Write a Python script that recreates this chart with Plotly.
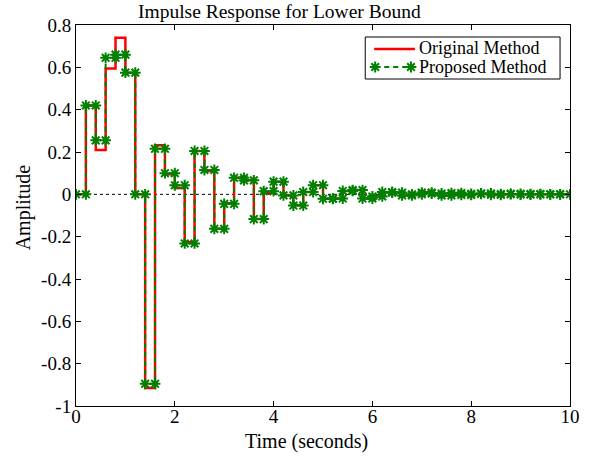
import numpy as np
import plotly.graph_objects as go

# ---- data ----
Ts = 0.2
t_start = [round(Ts * k, 2) for k in range(50)]

original_vals = [0.0, 0.42, 0.21, 0.595, 0.74, 0.575, 0.0, -0.915, 0.232, 0.095,
                 0.03, -0.225, 0.205, 0.11, -0.163, -0.042, 0.078, 0.066, -0.117, 0.005,
                 0.06, -0.005, -0.05, 0.011, 0.043, -0.021, -0.02, 0.016, 0.02, -0.02,
                 -0.01, 0.011, 0.008, -0.005, 0.0, 0.01, 0.004, -0.007, 0.006, -0.003,
                 0.002, 0.004, -0.003, 0.001, 0.002, -0.001, 0.001, 0.0, 0.0, 0.0]

proposed_vals = [0.0, 0.42, 0.255, 0.645, 0.66, 0.575, 0.0, -0.895, 0.215, 0.10,
                 0.043, -0.232, 0.205, 0.115, -0.163, -0.045, 0.078, 0.066, -0.117, 0.015,
                 0.06, -0.005, -0.053, 0.011, 0.043, -0.021, -0.02, 0.016, 0.02, -0.02,
                 -0.01, 0.011, 0.008, -0.005, 0.0, 0.008, 0.004, -0.005, 0.006, -0.003,
                 0.002, 0.004, -0.002, 0.001, 0.002, -0.001, 0.001, 0.0, 0.0, 0.0]

series_names = ["Original Method", "Proposed Method"]
x_ticks = [0, 2, 4, 6, 8, 10]
y_ticks = [-1, -0.8, -0.6, -0.4, -0.2, 0, 0.2, 0.4, 0.6, 0.8]
y_tick_text = ["-1", "-0.8", "-0.6", "-0.4", "-0.2", "0", "0.2", "0.4", "0.6", "0.8"]


def stairs(ts, vals, step):
    xs, ys = [], []
    for t, v in zip(ts, vals):
        xs += [t, t + step]
        ys += [v, v]
    return xs, ys


xo, yo = stairs(t_start, original_vals, Ts)
xp, yp = stairs(t_start, proposed_vals, Ts)

FONT = "Liberation Serif, Times New Roman, serif"
RED = "#ff0000"
GREEN = "#008000"
GREEN_LINE = dict(color=GREEN, width=2, dash="5px,4px")
GREEN_MARKER = dict(symbol="asterisk-open", size=9, color=GREEN,
                    line=dict(color=GREEN, width=2))

# plot area in pixels
L, R, T, B = 76, 573, 25, 406
W, H = R - L, B - T


def px(x):
    return (x - L) / W


def py(y):
    return (B - y) / H


fig = go.Figure()
fig.add_trace(go.Scatter(x=xo, y=yo, mode="lines", name=series_names[0],
                         line=dict(color=RED, width=2.5), showlegend=False))
fig.add_trace(go.Scatter(x=xp, y=yp, mode="lines+markers", name=series_names[1],
                         line=GREEN_LINE, marker=GREEN_MARKER, showlegend=False))

# legend markers on a pixel-based overlay axis
fig.add_trace(go.Scatter(x=[377, 413], y=[67, 67], mode="markers", xaxis="x2", yaxis="y2",
                         marker=GREEN_MARKER, showlegend=False, hoverinfo="skip"))

fig.add_shape(type="line", x0=0, x1=10, y0=0, y1=0, xref="x", yref="y",
              line=dict(color="black", width=1, dash="dot"), layer="below")

# manual legend box and samples
fig.add_shape(type="rect", xref="paper", yref="paper",
              x0=px(367), x1=px(563), y0=py(79), y1=py(37),
              line=dict(color="black", width=1), fillcolor="white", layer="below")
fig.add_shape(type="line", xref="paper", yref="paper",
              x0=px(376), x1=px(417), y0=py(49), y1=py(49),
              line=dict(color=RED, width=2.5))
fig.add_shape(type="line", xref="paper", yref="paper",
              x0=px(377), x1=px(413), y0=py(67), y1=py(67),
              line=GREEN_LINE)

axis_common = dict(showgrid=False, zeroline=False, showline=True, linecolor="black",
                   linewidth=1, mirror="ticks", ticks="inside", ticklen=5,
                   tickcolor="black", tickfont=dict(family=FONT, size=19, color="black"))

fig.update_xaxes(range=[0, 10], tickvals=x_ticks, ticklabelstandoff=-7, **axis_common)
fig.update_yaxes(range=[-1, 0.8], tickvals=y_ticks, ticktext=y_tick_text, **axis_common)

fig.update_layout(
    width=592, height=458,
    margin=dict(l=L, r=592 - R, t=T, b=458 - B),
    plot_bgcolor="white", paper_bgcolor="white",
    showlegend=False,
    xaxis2=dict(range=[L, R], overlaying="x", visible=False, fixedrange=True),
    yaxis2=dict(range=[B, T], overlaying="y", visible=False, fixedrange=True),
    annotations=[
        dict(text="Impulse Response for Lower Bound", xref="paper", yref="paper",
             x=px(281), y=py(12), xanchor="center", yanchor="middle",
             showarrow=False, font=dict(family=FONT, size=19.5, color="black")),
        dict(text="Time (seconds)", xref="paper", yref="paper",
             x=px(308), y=py(441), xanchor="center", yanchor="middle",
             showarrow=False, font=dict(family=FONT, size=20, color="black")),
        dict(text="Amplitude", xref="paper", yref="paper",
             x=px(23), y=py(207), xanchor="center", yanchor="middle",
             textangle=-90, showarrow=False,
             font=dict(family=FONT, size=20, color="black")),
        dict(text=series_names[0], xref="paper", yref="paper",
             x=px(419), y=py(48), xanchor="left", yanchor="middle",
             showarrow=False, font=dict(family=FONT, size=18, color="black")),
        dict(text=series_names[1], xref="paper", yref="paper",
             x=px(419), y=py(67), xanchor="left", yanchor="middle",
             showarrow=False, font=dict(family=FONT, size=18, color="black")),
    ],
)

fig.write_html("out.html")
